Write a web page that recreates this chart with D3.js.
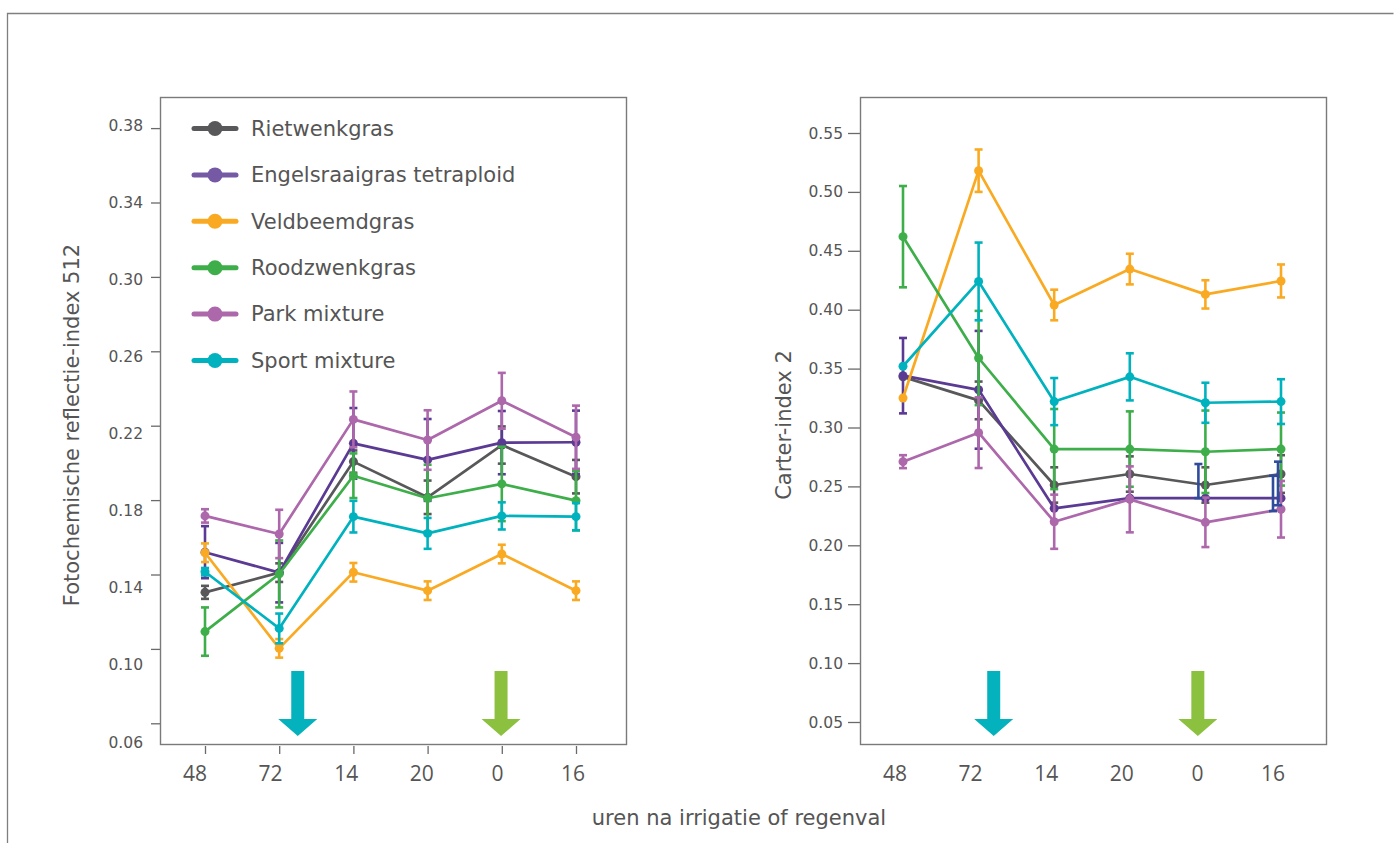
<!DOCTYPE html>
<html>
<head>
<meta charset="utf-8">
<script src="https://cdn.jsdelivr.net/npm/d3@7"></script>
<style>
  html, body { margin: 0; padding: 0; background: #fff; }
  svg { display: block; }
</style>
</head>
<body>
<svg id="chart" width="1394" height="843"></svg>
<script>
// ---------------- DATA ----------------
const categories = ["48", "72", "14", "20", "0", "16"];
const seriesNames = ["Rietwenkgras", "Engelsraaigras tetraploid", "Veldbeemdgras", "Roodzwenkgras", "Park mixture", "Sport mixture"];
const seriesColors = ["#58585a", "#5b3a94", "#f9aa22", "#3dae4a", "#ad67ab", "#00b2be"];
const legendColors = ["#58585a", "#7659a5", "#f9aa22", "#3dae4a", "#ad67ab", "#00b2be"];

// Left panel: Fotochemische reflectie-index 512
const leftTicks = [0.06, 0.10, 0.14, 0.18, 0.22, 0.26, 0.30, 0.34, 0.38];
const leftRiet  = [0.1304, 0.141, 0.2007, 0.1815, 0.2096, 0.1926];
const leftRietErr = [0.0035, 0.005, 0.006, 0.009, 0.010, 0.009];
const leftEng   = [0.152, 0.141, 0.2105, 0.2016, 0.2109, 0.2111];
const leftEngErr = [0.014, 0.016, 0.019, 0.022, 0.017, 0.017];
const leftVeld  = [0.1517, 0.1003, 0.1412, 0.1313, 0.151, 0.1313];
const leftVeldErr = [0.005, 0.005, 0.005, 0.005, 0.005, 0.005];
const leftRood  = [0.1093, 0.1403, 0.1931, 0.181, 0.1887, 0.1797];
const leftRoodErr = [0.013, 0.018, 0.012, 0.018, 0.020, 0.016];
const leftPark  = [0.1715, 0.1618, 0.2234, 0.2123, 0.2334, 0.2138];
const leftParkErr = [0.0036, 0.013, 0.015, 0.016, 0.015, 0.017];
const leftSport = [0.1415, 0.111, 0.1711, 0.1621, 0.1715, 0.1711];
const leftSportErr = [0.002, 0.008, 0.0085, 0.0083, 0.0073, 0.0073];

// Right panel: Carter-index 2
const rightTicks = [0.05, 0.10, 0.15, 0.20, 0.25, 0.30, 0.35, 0.40, 0.45, 0.50, 0.55];
const rightRiet  = [0.343, 0.323, 0.2512, 0.2605, 0.2512, 0.2605];
const rightRietErr = [0, 0.016, 0.015, 0.015, 0.015, 0.016];
const rightEng   = [0.344, 0.332, 0.2314, 0.240, 0.240, 0.240];
const rightEngErr = [0.032, 0.050, 0, 0, 0, 0];
const rightVeld  = [0.325, 0.518, 0.404, 0.4345, 0.413, 0.4244];
const rightVeldErr = [0, 0.018, 0.013, 0.013, 0.012, 0.014];
const rightRood  = [0.462, 0.359, 0.2817, 0.2817, 0.2794, 0.2817];
const rightRoodErr = [0.043, 0.040, 0.034, 0.032, 0.035, 0.031];
const rightPark  = [0.271, 0.2956, 0.220, 0.239, 0.2195, 0.2306];
const rightParkErr = [0.0055, 0.030, 0.023, 0.028, 0.021, 0.024];
const rightSport = [0.352, 0.424, 0.322, 0.343, 0.321, 0.322];
const rightSportErr = [0, 0.033, 0.020, 0.020, 0.017, 0.019];
// extra (navy) error bars in the right panel
const navyBarCats = ["0", "16", "16"];
const navyBarLow  = [0.240, 0.229, 0.234];
const navyBarHigh = [0.269, 0.259, 0.271];

const xTitle = "uren na irrigatie of regenval";
const leftTitle = "Fotochemische reflectie-index 512";
const rightTitle = "Carter-index 2";

// ---------------- DRAW ----------------
const svg = d3.select("#chart");
const FONT_V = "'DejaVu Sans', Verdana, sans-serif";
const FONT_S = "'Open Sans', 'Noto Sans', sans-serif";
const TXT = "#555555";

// outer frame (top and left only visible)
svg.append("path")
  .attr("d", "M7.5,843 V13.5 H1393.5")
  .attr("fill", "none").attr("stroke", "#7f7f7f").attr("stroke-width", 1.3);

function drawPanel(cfg) {
  const g = svg.append("g");
  const x = d3.scalePoint().domain(categories).range(cfg.xRange);
  const xLab = d3.scalePoint().domain(categories).range(cfg.xLabRange);
  const y = d3.scaleLinear().domain([cfg.ticks[0], cfg.ticks[cfg.ticks.length - 1]]).range(cfg.yRange);
  const yLab = d3.scaleLinear().domain([cfg.ticks[0], cfg.ticks[cfg.ticks.length - 1]]).range(cfg.yLabRange);

  // y axis ticks (lines only)
  const ay = g.append("g").attr("transform", `translate(${cfg.box[0]},0)`)
    .call(d3.axisLeft(y).tickValues(cfg.ticks).tickSize(cfg.tickLen).tickFormat(""));
  ay.select(".domain").remove();
  ay.selectAll("line").attr("stroke", "#6a6a6a").attr("stroke-width", 1.3);
  // y labels
  g.append("g").selectAll("text").data(cfg.ticks).join("text")
    .attr("x", cfg.box[0] - 17).attr("y", d => yLab(d)).attr("dy", "0.36em")
    .attr("text-anchor", "end").attr("font-family", FONT_V).attr("font-size", 15.5)
    .attr("fill", TXT).text(d3.format(".2f"));

  // x axis ticks
  if (cfg.xTicks) {
    const ax = g.append("g").attr("transform", `translate(0,${cfg.box[3] + 2})`)
      .call(d3.axisBottom(x).tickSize(8).tickFormat(""));
    ax.select(".domain").remove();
    ax.selectAll("line").attr("stroke", "#6a6a6a").attr("stroke-width", 1.3);
  }
  g.append("g").selectAll("text").data(categories).join("text")
    .attr("x", d => xLab(d)).attr("y", 781)
    .attr("text-anchor", "middle").attr("font-family", FONT_S).attr("font-size", 21)
    .attr("fill", TXT).text(d => d);

  // y title
  g.append("text")
    .attr("transform", `translate(${cfg.titleX},425) rotate(-90)`)
    .attr("text-anchor", "middle").attr("font-family", FONT_V).attr("font-size", 21)
    .attr("fill", TXT).text(cfg.title);

  // arrows
  const step = x.step();
  const bottom = cfg.box[3];
  const arrows = [
    { cx: x("72") + cfg.arrowOff[0] * step, color: "#04b2bd" },
    { cx: x("0") + cfg.arrowOff[1] * step, color: "#8cc13f" }
  ];
  arrows.forEach(a => {
    const p = d3.path();
    p.moveTo(a.cx - 6.5, bottom - 73);
    p.lineTo(a.cx + 6.5, bottom - 73);
    p.lineTo(a.cx + 6.5, bottom - 25);
    p.lineTo(a.cx + 19.5, bottom - 25);
    p.lineTo(a.cx, bottom - 8);
    p.lineTo(a.cx - 19.5, bottom - 25);
    p.lineTo(a.cx - 6.5, bottom - 25);
    p.closePath();
    g.append("path").attr("d", p.toString()).attr("fill", a.color);
  });

  // series
  cfg.series.forEach((s, i) => {
    const col = seriesColors[i];
    const pts = categories.map((c, k) => ({ c, v: s.vals[k], e: s.err[k] }));
    // error bars
    const eb = g.append("g").attr("stroke", col).attr("stroke-width", 2.6).attr("fill", "none");
    pts.filter(p => p.e > 0).forEach(p => {
      const xx = x(p.c);
      eb.append("line").attr("x1", xx).attr("x2", xx).attr("y1", y(p.v - p.e)).attr("y2", y(p.v + p.e));
      eb.append("line").attr("x1", xx - 4).attr("x2", xx + 4).attr("y1", y(p.v - p.e)).attr("y2", y(p.v - p.e));
      eb.append("line").attr("x1", xx - 4).attr("x2", xx + 4).attr("y1", y(p.v + p.e)).attr("y2", y(p.v + p.e));
    });
    // line
    const line = d3.line().x(p => x(p.c)).y(p => y(p.v));
    g.append("path").datum(pts).attr("d", line)
      .attr("fill", "none").attr("stroke", col).attr("stroke-width", 2.7).attr("stroke-linejoin", "round");
    // markers
    g.append("g").selectAll("circle").data(pts).join("circle")
      .attr("cx", p => x(p.c)).attr("cy", p => y(p.v)).attr("r", 4.5).attr("fill", col);
  });

  // extra navy bars
  if (cfg.navy) {
    const nb = g.append("g").attr("stroke", "#2f4b9c").attr("stroke-width", 2.6);
    cfg.navy.cats.forEach((c, k) => {
      const xx = x(c) + cfg.navy.off[k];
      const y1 = y(cfg.navy.low[k]), y2 = y(cfg.navy.high[k]);
      nb.append("line").attr("x1", xx).attr("x2", xx).attr("y1", y1).attr("y2", y2);
      nb.append("line").attr("x1", xx - 4).attr("x2", xx + 4).attr("y1", y1).attr("y2", y1);
      nb.append("line").attr("x1", xx - 4).attr("x2", xx + 4).attr("y1", y2).attr("y2", y2);
    });
  }

  // plot box
  g.append("rect")
    .attr("x", cfg.box[0] + 0.5).attr("y", cfg.box[1] + 0.5)
    .attr("width", cfg.box[2] - cfg.box[0]).attr("height", cfg.box[3] - cfg.box[1])
    .attr("fill", "none").attr("stroke", "#7a7a7a").attr("stroke-width", 1.4);
  return { x, y };
}

drawPanel({
  box: [160, 97, 626, 744],
  xRange: [205, 576],
  xLabRange: [195, 573],
  ticks: leftTicks,
  yRange: [723.3, 723.3 - 8 * 74.4],
  yLabRange: [742, 125],
  tickLen: 9,
  xTicks: true,
  titleX: 79,
  title: leftTitle,
  arrowOff: [0.25, -0.01],
  series: [
    { vals: leftRiet, err: leftRietErr },
    { vals: leftEng, err: leftEngErr },
    { vals: leftVeld, err: leftVeldErr },
    { vals: leftRood, err: leftRoodErr },
    { vals: leftPark, err: leftParkErr },
    { vals: leftSport, err: leftSportErr }
  ]
});

drawPanel({
  box: [860, 97, 1326, 744],
  xRange: [903, 1281],
  xLabRange: [895, 1273],
  ticks: rightTicks,
  yRange: [722, 722 - 10 * 58.9],
  yLabRange: [722, 722 - 10 * 58.9],
  tickLen: 12,
  xTicks: false,
  titleX: 791,
  title: rightTitle,
  arrowOff: [0.2, -0.1],
  series: [
    { vals: rightRiet, err: rightRietErr },
    { vals: rightEng, err: rightEngErr },
    { vals: rightVeld, err: rightVeldErr },
    { vals: rightRood, err: rightRoodErr },
    { vals: rightPark, err: rightParkErr },
    { vals: rightSport, err: rightSportErr }
  ],
  navy: { cats: navyBarCats, low: navyBarLow, high: navyBarHigh, off: [-7, -8, -3] }
});

// x title
svg.append("text").attr("x", 739).attr("y", 825).attr("text-anchor", "middle")
  .attr("font-family", FONT_V).attr("font-size", 21).attr("fill", TXT).text(xTitle);

// legend
const lg = svg.append("g");
seriesNames.forEach((name, i) => {
  const yy = 128.5 + 46.4 * i;
  lg.append("line").attr("x1", 194).attr("x2", 236).attr("y1", yy).attr("y2", yy)
    .attr("stroke", legendColors[i]).attr("stroke-width", 5).attr("stroke-linecap", "round");
  lg.append("circle").attr("cx", 215).attr("cy", yy).attr("r", 7.5).attr("fill", legendColors[i]);
  lg.append("text").attr("x", 251).attr("y", yy).attr("dy", "0.35em")
    .attr("font-family", FONT_V).attr("font-size", 21).attr("fill", TXT).text(name);
});
</script>
</body>
</html>
